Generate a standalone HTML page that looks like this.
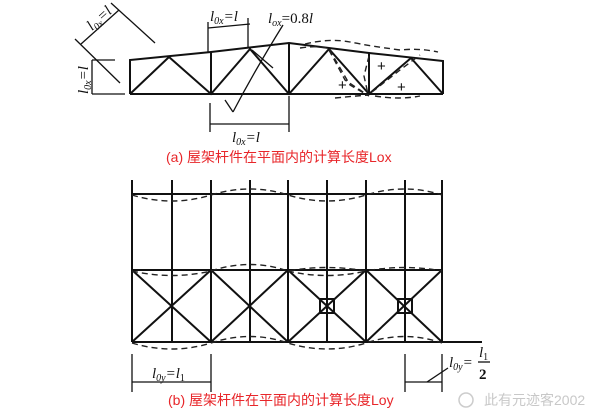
<!DOCTYPE html>
<html><head><meta charset="utf-8"><style>
html,body{margin:0;padding:0;background:#fff;}
svg{display:block;}
.t{font-family:"Liberation Serif",serif;font-style:italic;font-size:15px;fill:#111;}
.s{font-size:10px;}
.cap{font-family:"Liberation Sans","Noto Sans CJK SC",sans-serif;font-size:14px;fill:#e8262a;}
</style></head><body>
<svg width="606" height="414" viewBox="0 0 606 414" xmlns="http://www.w3.org/2000/svg">
<g stroke="#111" fill="none" stroke-width="2">
<polyline points="130,94 130,60 211,52 289,43 369,53 443,61 443,94"/>
<line x1="130" y1="94" x2="443" y2="94"/>
<line x1="211" y1="52" x2="211" y2="94"/>
<line x1="289" y1="43" x2="289" y2="94"/>
<line x1="369" y1="53" x2="369" y2="94"/>
<polyline points="130,94 169,57 211,94 250,49 289,94 329,49 369,94 411,58 443,94"/>
</g>
<g stroke="#111" fill="none" stroke-width="1.3">
<line x1="81" y1="44" x2="119" y2="10"/>
<line x1="111" y1="3" x2="155" y2="43"/>
<line x1="75" y1="39" x2="120" y2="83"/>
<line x1="92" y1="60" x2="92" y2="94"/>
<line x1="92" y1="60" x2="115" y2="60"/>
<line x1="92" y1="94" x2="125" y2="94"/>
<line x1="208" y1="28" x2="250" y2="24"/>
<line x1="208" y1="22" x2="208" y2="52"/>
<line x1="248" y1="18" x2="248" y2="48"/>
<line x1="252" y1="50" x2="273" y2="68"/>
<line x1="210" y1="124" x2="289" y2="124"/>
<line x1="210" y1="103" x2="210" y2="132"/>
<line x1="289" y1="96" x2="289" y2="132"/>
<line x1="225" y1="100" x2="233" y2="112"/>
<path d="M233,112 Q255,70 283,25"/>
</g>
<g stroke="#222" fill="none" stroke-width="1.4" stroke-dasharray="6,4">
<path d="M305,44 Q330,38 350,42 T400,50 Q420,48 438,52"/>
<path d="M300,48 Q320,45 329,49 L350,85 L369,96"/>
<path d="M329,50 L345,80 L366,94"/>
<path d="M369,56 L364,76 L368,94"/>
<path d="M372,92 L400,70 L420,55"/>
<path d="M375,96 Q400,100 420,96"/>
<path d="M335,98 Q355,96 369,95"/>
</g>
<g class="t" style="font-style:normal;font-family:'Liberation Sans',sans-serif;font-size:15px">
<text x="338" y="90">+</text><text x="377" y="71">+</text><text x="397" y="92">+</text>
</g>
<text class="t" x="210" y="21">l<tspan class="s" dy="3">0x</tspan><tspan dy="-3">=l</tspan></text>
<text class="t" x="268" y="23">l<tspan class="s" dy="3">ox</tspan><tspan dy="-3" style="font-style:normal">=0.8</tspan>l</text>
<text class="t" x="232" y="142">l<tspan class="s" dy="3">0x</tspan><tspan dy="-3">=l</tspan></text>
<text class="t" transform="translate(92,31) rotate(-42)">l<tspan class="s" dy="3">0x</tspan><tspan dy="-3">=l</tspan></text>
<text class="t" transform="translate(88,94) rotate(-90)">l<tspan class="s" dy="3">0x</tspan><tspan dy="-3">=l</tspan></text>
<text class="cap" x="166" y="162">(a) 屋架杆件在平面内的计算长度Lox</text>

<g stroke="#111" fill="none" stroke-width="2">
<line x1="132" y1="180" x2="132" y2="342"/>
<line x1="172" y1="180" x2="172" y2="342"/>
<line x1="211" y1="180" x2="211" y2="342"/>
<line x1="250" y1="180" x2="250" y2="342"/>
<line x1="288" y1="180" x2="288" y2="342"/>
<line x1="327" y1="180" x2="327" y2="342"/>
<line x1="366" y1="180" x2="366" y2="342"/>
<line x1="405" y1="180" x2="405" y2="342"/>
<line x1="442" y1="180" x2="442" y2="342"/>
<line x1="132" y1="194" x2="442" y2="194"/>
<line x1="132" y1="270" x2="442" y2="270"/>
<line x1="132" y1="342" x2="482" y2="342"/>
<path d="M132,270 L211,342 M211,270 L132,342 M211,270 L288,342 M288,270 L211,342 M288,270 L366,342 M366,270 L288,342 M366,270 L442,342 M442,270 L366,342"/>
<rect x="320" y="299" width="14" height="14"/>
<rect x="398" y="299" width="14" height="14"/>
</g>
<g stroke="#222" fill="none" stroke-width="1.4" stroke-dasharray="6,4">
<path d="M132,195 Q172,207 211,195 Q250,183 288,195 Q327,207 366,195 Q405,183 442,195"/>
<path d="M211,271 Q250,258 288,271 Q327,264 366,271 Q405,264 442,271"/>
<path d="M132,271 Q172,280 211,271 M288,271 Q327,280 366,271"/>
<path d="M132,343 Q172,355 211,343 Q250,330 288,343 Q327,355 366,343 Q405,330 442,343"/>
</g>
<g stroke="#111" fill="none" stroke-width="1.3">
<line x1="132" y1="382" x2="211" y2="382"/>
<line x1="132" y1="354" x2="132" y2="392"/>
<line x1="211" y1="354" x2="211" y2="392"/>
<line x1="405" y1="382" x2="442" y2="382"/>
<line x1="405" y1="354" x2="405" y2="392"/>
<line x1="442" y1="354" x2="442" y2="392"/>
<line x1="427" y1="382" x2="448" y2="368"/>
<line x1="478" y1="362" x2="490" y2="362"/>
</g>
<text class="t" x="152" y="378">l<tspan class="s" dy="3">0y</tspan><tspan dy="-3">=l</tspan><tspan class="s" dy="3" style="font-style:normal">1</tspan></text>
<text class="t" x="449" y="367">l<tspan class="s" dy="3">0y</tspan><tspan dy="-3">=</tspan></text>
<text class="t" x="479" y="357">l<tspan class="s" dy="3" style="font-style:normal">1</tspan></text>
<text class="t" x="479" y="379" style="font-style:normal;font-weight:bold">2</text>
<text class="cap" x="168" y="405">(b) 屋架杆件在平面内的计算长度Loy</text>
<text x="484" y="405" style="font-family:'Liberation Sans','Noto Sans CJK SC',sans-serif;font-size:14px;fill:#c8c8c8">此有元迹客2002</text>
<circle cx="466" cy="400" r="7" fill="none" stroke="#ccc" stroke-width="1.5"/>
</svg>
</body></html>
